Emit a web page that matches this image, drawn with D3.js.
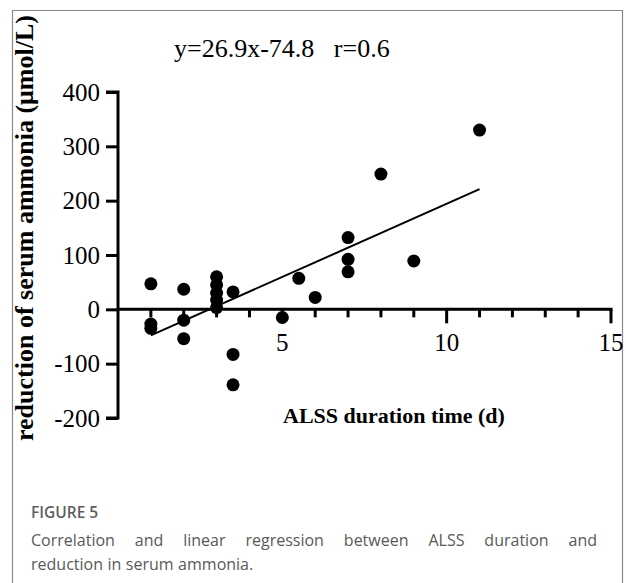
<!DOCTYPE html>
<html>
<head>
<meta charset="utf-8">
<script src="https://cdn.jsdelivr.net/npm/d3@7"></script>
<style>
  body { margin: 0; background: #fff; }
  svg { display: block; }
</style>
</head>
<body>
<svg id="chart" width="626" height="583"></svg>
<script>
// data
const durations = [1, 1, 1, 2, 2, 2, 3, 3, 3, 3, 3, 3.5, 3.5, 3.5, 5, 5.5, 6, 7, 7, 7, 8, 9, 11];
const reductions = [47, -27, -35, 37, -20, -54, 60, 45, 30, 17, 3, 32, -83, -139, -15, 57, 22, 132, 92, 69, 249, 89, 330];
const fitSlope = 26.9;
const fitIntercept = -74.8;
const fitRange = [1, 11];
const xTicks = [5, 10, 15];
const yTicks = [-200, -100, 0, 100, 200, 300, 400];
const captionLines = [
  'Correlation and linear regression between ALSS duration and',
  'reduction in serum ammonia.'
];

const svg = d3.select('#chart');
const serif = '"Liberation Serif", "Times New Roman", serif';

// frame
svg.append('path')
  .attr('d', 'M12.5,590V10.5H622.5V590')
  .attr('fill', 'none')
  .attr('stroke', '#8a8a8a')
  .attr('stroke-width', 1.2);

const x = d3.scaleLinear().domain([0, 15]).range([118, 611]);
const y = d3.scaleLinear().domain([-200, 400]).range([418, 92]);

const g = svg.append('g');

// y axis (hyphen minus like the original, not unicode minus)
const yAxis = d3.axisLeft(y).tickValues(yTicks).tickSize(12).tickPadding(6).tickFormat(d => String(d));
g.append('g')
  .attr('transform', `translate(${x(0)},0)`)
  .call(yAxis)
  .call(s => {
    s.select('.domain').attr('stroke-width', 3).attr('d', `M-12,${y(400)}H0V${y(-200)}H-12`);
    s.selectAll('.tick line').attr('stroke-width', 3);
    s.selectAll('.tick text').attr('font-family', serif).attr('font-size', 25).attr('fill', '#000');
  });

// x axis at y = 0, minor ticks every 1, major every 5
const xAxisG = g.append('g').attr('transform', `translate(0,${y(0)})`);
xAxisG.append('line')
  .attr('x1', x(0) - 1).attr('x2', x(15) + 1.5)
  .attr('stroke', '#000').attr('stroke-width', 3);
xAxisG.selectAll('.minor')
  .data(d3.range(1, 16))
  .enter().append('line')
  .attr('x1', d => x(d)).attr('x2', d => x(d))
  .attr('y1', 0).attr('y2', d => (d % 5 === 0 ? 14 : 8))
  .attr('stroke', '#000').attr('stroke-width', 3);
xAxisG.selectAll('.lbl')
  .data(xTicks)
  .enter().append('text')
  .attr('x', d => x(d)).attr('y', 42)
  .attr('text-anchor', 'middle')
  .attr('font-family', serif).attr('font-size', 25)
  .text(d => d);

// regression line
g.append('line')
  .attr('x1', x(fitRange[0])).attr('y1', y(fitSlope * fitRange[0] + fitIntercept))
  .attr('x2', x(fitRange[1])).attr('y2', y(fitSlope * fitRange[1] + fitIntercept))
  .attr('stroke', '#000').attr('stroke-width', 2);

// points
g.selectAll('circle')
  .data(durations.map((d, i) => ({ d, r: reductions[i] })))
  .enter().append('circle')
  .attr('cx', p => x(p.d)).attr('cy', p => y(p.r))
  .attr('r', 6.5)
  .attr('fill', '#000');

// titles
svg.append('text')
  .attr('x', 174).attr('y', 57)
  .attr('font-family', serif).attr('font-size', 26)
  .attr('xml:space', 'preserve')
  .text('y=26.9x-74.8   r=0.6');

svg.append('text')
  .attr('x', 283).attr('y', 423)
  .attr('font-family', serif).attr('font-size', 22).attr('font-weight', 'bold')
  .text('ALSS duration time (d)');

svg.append('text')
  .attr('transform', 'translate(33,441) rotate(-90)')
  .attr('font-family', serif).attr('font-size', 26).attr('font-weight', 'bold')
  .text('reduction of serum ammonia (μmol/L)');

// caption
const sans = '"Open Sans", "Noto Sans", sans-serif';
svg.append('text')
  .attr('x', 31).attr('y', 518)
  .attr('font-family', sans).attr('font-size', 15.5).attr('font-weight', 600)
  .attr('fill', '#5f5f5f')
  .text('FIGURE 5');

const capLeft = 31, capRight = 597;
captionLines.forEach((line, li) => {
  const t = svg.append('text')
    .attr('y', 546 + li * 24)
    .attr('font-family', sans).attr('font-size', 16)
    .attr('fill', '#595959');
  const words = line.split(' ');
  const justify = li < captionLines.length - 1;
  const spans = words.map(w => t.append('tspan').text(w));
  const widths = spans.map(s => s.node().getComputedTextLength());
  const total = d3.sum(widths);
  const gap = justify ? (capRight - capLeft - total) / (words.length - 1) : 4.5;
  let cx = capLeft;
  spans.forEach((s, i) => {
    s.attr('x', cx);
    cx += widths[i] + gap;
  });
});
</script>
</body>
</html>
